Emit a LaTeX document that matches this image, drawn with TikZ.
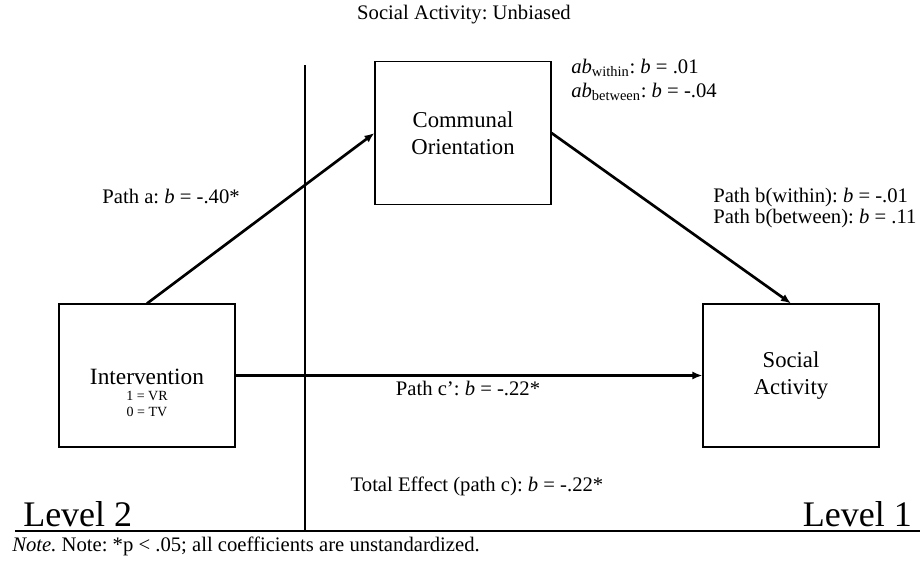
\documentclass[tikz,border=0pt]{standalone}
\usepackage{fontspec}
\setmainfont{Liberation Serif}
\usetikzlibrary{arrows.meta}
\frenchspacing
\tikzset{
  box/.style={draw, line width=0.8pt, minimum width=176*0.75pt, minimum height=143*0.75pt, inner sep=0pt, align=center, font=\fontsize{17}{20}\selectfont},
  lbl/.style={inner sep=0pt, font=\fontsize{15.5}{17}\selectfont},
  small/.style={inner sep=0pt, font=\fontsize{10.5}{12}\selectfont},
  conn/.style={line width=2pt, -{Latex[length=7.5pt,width=6pt]}},
  rule/.style={line width=2.2pt}
}
\begin{document}
\begin{tikzpicture}[x=0.75pt,y=-0.75pt]
\useasboundingbox (0,0) rectangle (920,562);
\node[lbl] (title) at (464,15) {Social Activity: Unbiased};
\node[box] (comm) at (463,133) {Communal\\Orientation};
\node[box] (inter) at (147,375.5) {};
\node[inner sep=0pt, font=\fontsize{17.5}{18}\selectfont] (intertxt) at (147,377) {Intervention};
\node[small] (vr) at (147,396) {1 = VR};
\node[small] (tv) at (147,412) {0 = TV};
\node[box] (soc) at (791,375.5) {Social\\Activity};
\coordinate (vtop) at (305,65);
\coordinate (vbot) at (305,531);
\coordinate (hl) at (15,531);
\coordinate (hr) at (920,531);
\draw[rule] (vtop) -- (vbot);
\draw[rule] (hl) -- (hr);
\draw[conn] (inter.north) -- (comm.west);
\draw[conn] (comm.east) -- (soc.north);
\draw[conn] (inter.east) -- (soc.west);
\node[lbl, anchor=west] (abw) at (571,68) {\textit{ab}\textsubscript{within}: \textit{b} = .01};
\node[lbl, anchor=west] (abb) at (571,92) {\textit{ab}\textsubscript{between}: \textit{b} = -.04};
\node[lbl, anchor=east] (pa) at (240,196) {Path a: \textit{b} = -.40*};
\node[lbl, anchor=west] (pbw) at (713,198) {Path b(within): \textit{b} = -.01};
\node[lbl, anchor=west] (pbb) at (713,219) {Path b(between): \textit{b} = .11};
\node[lbl] (pc) at (468,388) {Path c': \textit{b} = -.22*};
\node[lbl] (tot) at (477,486) {Total Effect (path c): \textit{b} = -.22*};
\node[inner sep=0pt, anchor=west, font=\fontsize{27}{30}\selectfont] (l2) at (23,514) {Level 2};
\node[inner sep=0pt, anchor=east, font=\fontsize{27}{30}\selectfont] (l1) at (912,514) {Level 1};
\node[lbl, anchor=west] (note) at (12,546) {\textit{Note.} Note: *p < .05; all coefficients are unstandardized.};
\end{tikzpicture}
\end{document}
